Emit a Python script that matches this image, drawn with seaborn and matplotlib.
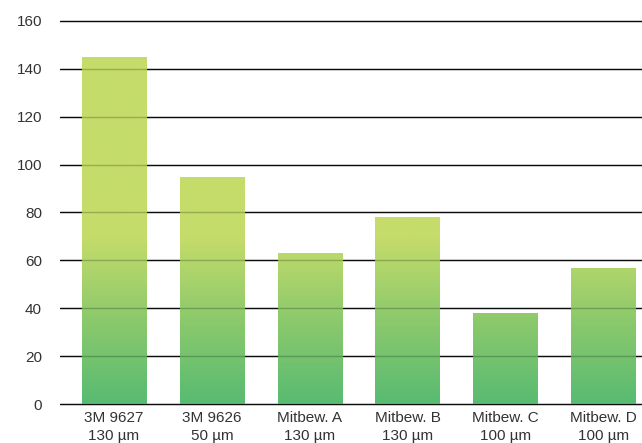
import matplotlib
matplotlib.use("Agg")
import matplotlib.pyplot as plt
import seaborn as sns
import numpy as np
import pandas as pd
from matplotlib.colors import LinearSegmentedColormap, Normalize

categories = ["3M 9627\n130 µm", "3M 9626\n50 µm", "Mitbew. A\n130 µm",
              "Mitbew. B\n130 µm", "Mitbew. C\n100 µm", "Mitbew. D\n100 µm"]
values = [145, 95, 63, 78, 38, 57]
y_ticks = [0, 20, 40, 60, 80, 100, 120, 140, 160]

sns.set_theme(style="white")
plt.rcParams['font.family'] = ['Liberation Sans', 'DejaVu Sans']

fig = plt.figure(figsize=(6.42, 4.43), dpi=100)
ax = fig.add_axes([60/642, 1-404/443, 1-60/642, (404-21)/443])

df = pd.DataFrame({"cat": categories, "val": values})
sns.barplot(data=df, x="cat", y="val", ax=ax, width=0.66, color="#5bbd72", zorder=2)

cmap = LinearSegmentedColormap.from_list("g", ["#58bb72", "#8cc96c", "#c5dc6a"])
norm = Normalize(vmin=0, vmax=70, clip=True)
for p in ax.patches:
    x0 = p.get_x(); w = p.get_width(); h = p.get_height()
    ys = np.linspace(0, h, 200)
    grad = cmap(norm(ys))[:, None, :]
    im = ax.imshow(grad, extent=(x0, x0 + w, 0, h), origin="lower",
                   aspect="auto", zorder=2, interpolation="bilinear")
    im.set_clip_path(p)
    p.set_alpha(0)

for t in y_ticks:
    ax.axhline(t, color="#111111", lw=1.0, zorder=1, clip_on=False)
    ax.axhline(t, color="#000000", lw=1.0, alpha=0.22, zorder=3, clip_on=False)

ax.set_xlim(-0.55, 5.39)
ax.set_ylim(0, 160)
ax.set_yticks(y_ticks)
ax.set_yticklabels([str(t) for t in y_ticks])
for s in ax.spines.values():
    s.set_visible(False)
ax.tick_params(axis="y", length=0, pad=13, labelsize=11, labelcolor="#333333")
ax.tick_params(axis="x", length=0, pad=5, labelsize=11, labelcolor="#333333")
ax.set_xlabel("")
ax.set_ylabel("")
for lbl in ax.get_xticklabels():
    lbl.set_linespacing(1.4)

fig.savefig("out.png", dpi=100)
